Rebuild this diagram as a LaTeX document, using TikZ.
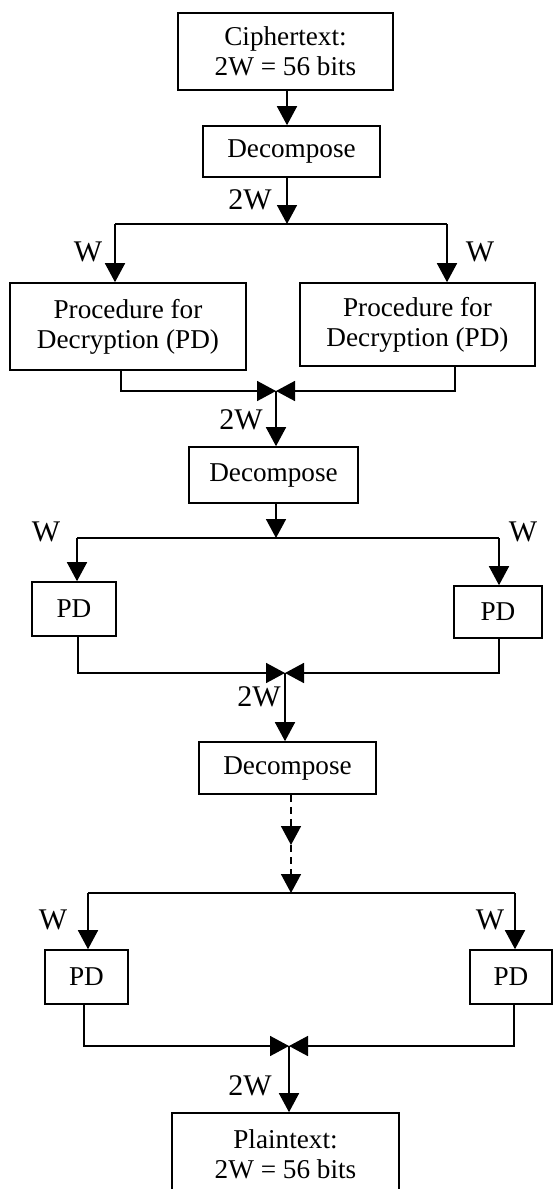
\documentclass[tikz,border=0pt]{standalone}
\usepackage{fontspec}
\setmainfont{Liberation Serif}
\usetikzlibrary{arrows.meta}
\tikzset{
  box/.style={draw, line width=1.6pt, inner sep=0pt, align=center,
    font=\fontsize{27.2}{30}\selectfont},
  lbl/.style={inner sep=0pt, font=\fontsize{30}{30}\selectfont},
  wire/.style={line width=1.6pt},
  flow/.style={wire, -{Triangle[length=19pt,width=20pt]}},
  dflow/.style={flow, dash pattern=on 7pt off 5pt},
}
\begin{document}
\begin{tikzpicture}[x=1pt,y=-1pt]
\useasboundingbox (0,0) rectangle (553,1189);
\clip (0,0) rectangle (553,1189);

% boxes
\node[box, minimum width=215pt, minimum height=77pt] (cipher) at (285.5,51.5) {Ciphertext:\\2W = 56 bits};
\node[box, minimum width=177pt, minimum height=51pt] (dec1) at (291.5,151.5) {Decompose};
\node[box, minimum width=236pt, minimum height=87pt] (pdA) at (128,326.5) {Procedure for\\Decryption (PD)};
\node[box, minimum width=235pt, minimum height=83pt] (pdB) at (417.5,324.5) {Procedure for\\Decryption (PD)};
\node[box, minimum width=169pt, minimum height=56pt] (dec2) at (273.5,475) {Decompose};
\node[box, minimum width=84pt, minimum height=54pt] (pdC) at (74,609) {PD};
\node[box, minimum width=88pt, minimum height=52pt] (pdD) at (498,612) {PD};
\node[box, minimum width=177pt, minimum height=52pt] (dec3) at (287.5,768) {Decompose};
\node[box, minimum width=83pt, minimum height=54pt] (pdE) at (86.5,977) {PD};
\node[box, minimum width=82pt, minimum height=54pt] (pdF) at (511,977) {PD};
\node[box, minimum width=227pt, minimum height=82pt, text depth=0pt] (plain) at (285.5,1154) {Plaintext:\\2W = 56 bits};

% junction points
\coordinate (s1) at (287,224);
\coordinate (s1l) at (115,224);
\coordinate (s1r) at (447,224);
\coordinate (m1) at (276,391);
\coordinate (m1l) at (121,391);
\coordinate (m1r) at (455,391);
\coordinate (s2) at (276,538);
\coordinate (s2l) at (77,538);
\coordinate (s2r) at (499,538);
\coordinate (m2) at (285,673);
\coordinate (m2l) at (78,673);
\coordinate (m2r) at (499,673);
\coordinate (d3) at (291,845);
\coordinate (s3) at (291,893);
\coordinate (s3l) at (88,893);
\coordinate (s3r) at (515,893);
\coordinate (m3) at (289,1046);
\coordinate (m3l) at (84,1046);
\coordinate (m3r) at (514,1046);

% stage 1
\draw[flow] (cipher.south -| s1) -- (dec1.north -| s1);
\draw[flow] (dec1.south -| s1) -- (s1);
\draw[wire] (s1l) -- (s1r);
\draw[flow] (s1l) -- (pdA.north -| s1l);
\draw[flow] (s1r) -- (pdB.north -| s1r);
\node[lbl] (w1) at (88,252) {W};
\node[lbl] (w2) at (480,252) {W};
\node[lbl] (t1) at (250,200) {2W};
\draw[flow] (pdA.south -| m1l) -- (m1l) -- (m1);
\draw[flow] (pdB.south -| m1r) -- (m1r) -- (m1);

% stage 2
\draw[flow] (m1) -- (dec2.north -| m1);
\node[lbl] (t2) at (241,420) {2W};
\draw[flow] (dec2.south -| s2) -- (s2);
\draw[wire] (s2l) -- (s2r);
\draw[flow] (s2l) -- (pdC.north -| s2l);
\draw[flow] (s2r) -- (pdD.north -| s2r);
\node[lbl] (w3) at (46,532) {W};
\node[lbl] (w4) at (523,532) {W};
\draw[flow] (pdC.south -| m2l) -- (m2l) -- (m2);
\draw[flow] (pdD.south -| m2r) -- (m2r) -- (m2);

% stage 3
\draw[flow] (m2) -- (dec3.north -| m2);
\node[lbl] (t3) at (259,697) {2W};
\draw[dflow] (dec3.south -| d3) -- (d3);
\draw[dflow] (d3) -- (s3);
\draw[wire] (s3l) -- (s3r);
\draw[flow] (s3l) -- (pdE.north -| s3l);
\draw[flow] (s3r) -- (pdF.north -| s3r);
\node[lbl] (w5) at (53,920) {W};
\node[lbl] (w6) at (490,920) {W};
\draw[flow] (pdE.south -| m3l) -- (m3l) -- (m3);
\draw[flow] (pdF.south -| m3r) -- (m3r) -- (m3);

% output
\draw[flow] (m3) -- (plain.north -| m3);
\node[lbl] (t4) at (250,1086) {2W};
\end{tikzpicture}
\end{document}
